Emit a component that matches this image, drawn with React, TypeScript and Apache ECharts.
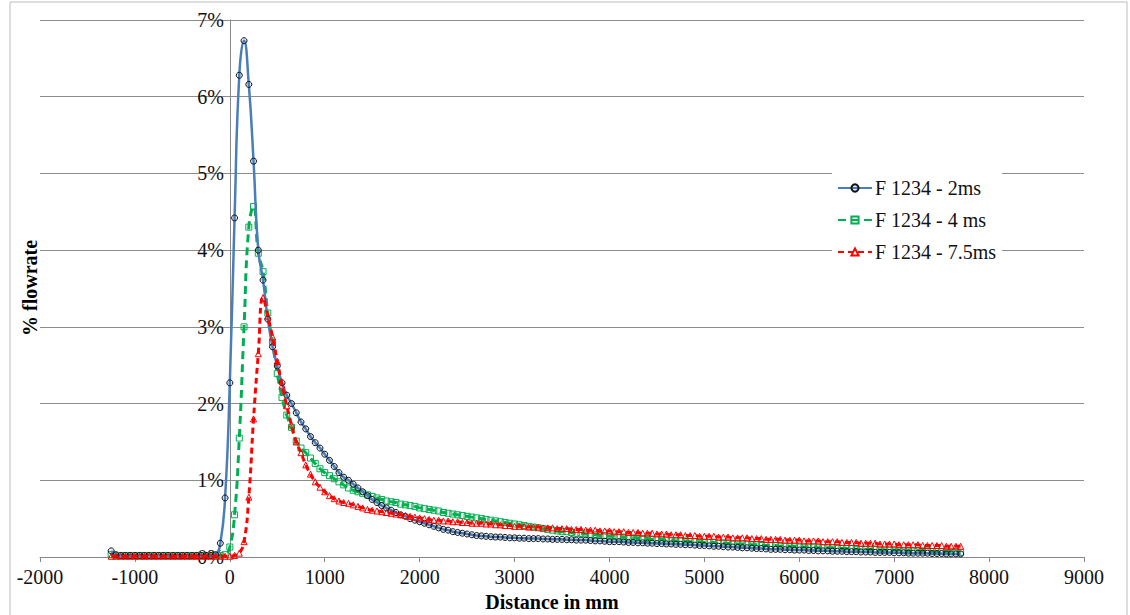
import React, { useEffect, useRef } from "react";
import * as echarts from "echarts";

const X_START = -1250;
const X_STEP = 50;

const blue = [
  0.08, 0.03, 0.02, 0.02, 0.02, 0.02, 0.02, 0.02, 0.02, 0.02,
  0.02, 0.02, 0.02, 0.02, 0.02, 0.02, 0.02, 0.02, 0.02, 0.02,
  0.02, 0.02, 0.03, 0.18, 0.77, 2.27, 4.42, 6.28, 6.73, 6.16,
  5.16, 4.0, 3.61, 3.1, 2.74, 2.49, 2.27, 2.11, 2.0, 1.88,
  1.76, 1.67, 1.57, 1.49, 1.42, 1.34, 1.26, 1.18, 1.1, 1.04,
  1.0, 0.95, 0.9, 0.85, 0.8, 0.75, 0.71, 0.67, 0.64, 0.61,
  0.58, 0.55, 0.53, 0.5, 0.48, 0.46, 0.44, 0.42, 0.4, 0.38,
  0.36, 0.35, 0.33, 0.32, 0.31, 0.3, 0.29, 0.28, 0.275, 0.27,
  0.265, 0.26, 0.26, 0.255, 0.25, 0.25, 0.245, 0.245, 0.24, 0.24,
  0.24, 0.235, 0.235, 0.23, 0.23, 0.23, 0.225, 0.225, 0.22, 0.22,
  0.22, 0.215, 0.21, 0.21, 0.205, 0.2, 0.2, 0.2, 0.195, 0.19,
  0.19, 0.185, 0.185, 0.18, 0.18, 0.175, 0.175, 0.17, 0.17, 0.165,
  0.165, 0.16, 0.16, 0.155, 0.15, 0.15, 0.145, 0.14, 0.14, 0.135,
  0.13, 0.13, 0.125, 0.12, 0.12, 0.115, 0.11, 0.11, 0.105, 0.1,
  0.1, 0.1, 0.095, 0.095, 0.09, 0.09, 0.09, 0.085, 0.085, 0.08,
  0.08, 0.08, 0.075, 0.075, 0.075, 0.07, 0.07, 0.07, 0.065, 0.065,
  0.065, 0.06, 0.06, 0.06, 0.06, 0.055, 0.055, 0.055, 0.05, 0.05,
  0.05, 0.05, 0.05, 0.045, 0.045, 0.045, 0.04, 0.04, 0.04, 0.04,
];

const green = [
  0.03, 0.02, 0.02, 0.02, 0.02, 0.02, 0.02, 0.02, 0.02, 0.02,
  0.02, 0.02, 0.02, 0.02, 0.02, 0.02, 0.02, 0.02, 0.02, 0.02,
  0.02, 0.02, 0.02, 0.02, 0.03, 0.13, 0.55, 1.55, 3.0, 4.3,
  4.57, 3.96, 3.72, 3.18, 2.8, 2.39, 2.08, 1.85, 1.69, 1.51,
  1.42, 1.36, 1.29, 1.22, 1.15, 1.1, 1.06, 1.02, 0.98, 0.94,
  0.9, 0.87, 0.85, 0.83, 0.81, 0.79, 0.77, 0.75, 0.73, 0.72,
  0.71, 0.69, 0.68, 0.67, 0.66, 0.64, 0.63, 0.62, 0.61, 0.6,
  0.58, 0.57, 0.56, 0.55, 0.54, 0.53, 0.52, 0.51, 0.5, 0.49,
  0.48, 0.47, 0.46, 0.45, 0.44, 0.43, 0.42, 0.41, 0.4, 0.39,
  0.38, 0.37, 0.36, 0.35, 0.34, 0.33, 0.33, 0.32, 0.31, 0.31,
  0.3, 0.29, 0.29, 0.28, 0.28, 0.27, 0.27, 0.26, 0.26, 0.25,
  0.25, 0.25, 0.24, 0.24, 0.23, 0.23, 0.23, 0.22, 0.22, 0.21,
  0.21, 0.21, 0.2, 0.2, 0.2, 0.19, 0.19, 0.19, 0.18, 0.18,
  0.18, 0.17, 0.17, 0.17, 0.16, 0.16, 0.16, 0.15, 0.15, 0.15,
  0.15, 0.14, 0.14, 0.14, 0.14, 0.13, 0.13, 0.13, 0.13, 0.12,
  0.12, 0.12, 0.12, 0.11, 0.11, 0.11, 0.11, 0.1, 0.1, 0.1,
  0.1, 0.1, 0.09, 0.09, 0.09, 0.09, 0.09, 0.08, 0.08, 0.08,
  0.08, 0.08, 0.08, 0.07, 0.07, 0.07, 0.07, 0.07, 0.07, 0.06,
];

const red = [
  0.01, 0.01, 0.01, 0.01, 0.01, 0.01, 0.01, 0.01, 0.01, 0.01,
  0.01, 0.01, 0.01, 0.01, 0.01, 0.01, 0.01, 0.01, 0.01, 0.01,
  0.01, 0.01, 0.01, 0.01, 0.01, 0.01, 0.02, 0.05, 0.2, 0.78,
  1.8, 2.65, 3.38, 3.14, 2.87, 2.55, 2.24, 1.97, 1.72, 1.5,
  1.36, 1.2, 1.08, 0.98, 0.91, 0.85, 0.8, 0.76, 0.73, 0.71,
  0.7, 0.68, 0.66, 0.64, 0.62, 0.61, 0.6, 0.59, 0.58, 0.57,
  0.56, 0.55, 0.54, 0.53, 0.52, 0.51, 0.5, 0.49, 0.48, 0.48,
  0.47, 0.47, 0.46, 0.46, 0.45, 0.45, 0.44, 0.44, 0.44, 0.43,
  0.43, 0.42, 0.42, 0.41, 0.41, 0.4, 0.4, 0.4, 0.39, 0.39,
  0.39, 0.38, 0.38, 0.38, 0.37, 0.37, 0.37, 0.36, 0.36, 0.36,
  0.35, 0.35, 0.35, 0.34, 0.34, 0.34, 0.33, 0.33, 0.33, 0.32,
  0.32, 0.32, 0.31, 0.31, 0.31, 0.3, 0.3, 0.3, 0.29, 0.29,
  0.29, 0.28, 0.28, 0.28, 0.27, 0.27, 0.27, 0.27, 0.26, 0.26,
  0.26, 0.25, 0.25, 0.25, 0.25, 0.24, 0.24, 0.24, 0.23, 0.23,
  0.23, 0.23, 0.22, 0.22, 0.22, 0.22, 0.21, 0.21, 0.21, 0.21,
  0.2, 0.2, 0.2, 0.2, 0.19, 0.19, 0.19, 0.19, 0.18, 0.18,
  0.18, 0.18, 0.17, 0.17, 0.17, 0.17, 0.16, 0.16, 0.16, 0.16,
  0.16, 0.15, 0.15, 0.15, 0.15, 0.15, 0.14, 0.14, 0.14, 0.14,
];

const seriesNames = ["F 1234 - 2ms", "F 1234 - 4 ms", "F 1234 - 7.5ms"];
const FONT = "Liberation Serif";

const toPairs = (vals: number[]) => vals.map((v, i) => [X_START + i * X_STEP, v]);

export default function App() {
  const ref = useRef<HTMLDivElement>(null);
  useEffect(() => {
    const chart = echarts.init(ref.current!, null, { renderer: "svg" });
    const base = { type: "line", smooth: true, symbolSize: 6 };
    chart.setOption({
      animation: false,
      textStyle: { fontFamily: FONT },
      grid: { left: 40, right: 46, top: 20, bottom: 58 },
      legend: {
        orient: "vertical",
        left: 832,
        top: 168,
        padding: [10, 6, 10, 5],
        backgroundColor: "#fff",
        itemGap: 12,
        itemWidth: 34,
        itemHeight: 9,
        textStyle: { fontFamily: FONT, fontSize: 20, color: "#111", padding: [0, 0, 0, -2] },
        data: seriesNames,
      },
      xAxis: {
        type: "value",
        min: -2000,
        max: 9000,
        interval: 1000,
        axisLine: { onZero: false, lineStyle: { color: "#888" } },
        axisTick: { show: true, length: 5, lineStyle: { color: "#888" } },
        axisLabel: { fontFamily: FONT, fontSize: 20, color: "#111", margin: 10, formatter: (v: number) => String(v) },
        splitLine: { show: false },
      },
      yAxis: {
        type: "value",
        min: 0,
        max: 7,
        interval: 1,
        axisLine: { show: true, onZero: true, lineStyle: { color: "#888" } },
        axisTick: { show: false },
        axisLabel: { fontFamily: FONT, fontSize: 20, color: "#111", formatter: "{value}%", margin: -184 },
        splitLine: { lineStyle: { color: "#8c8c8c", width: 1 } },
      },
      graphic: [
        { type: "rect", shape: { x: 10, y: 2, width: 1117, height: 640 }, style: { fill: "none", stroke: "#bbb", lineWidth: 1 }, silent: true },
        { type: "text", x: 30, y: 288, rotation: Math.PI / 2, style: { text: "% flowrate", font: `bold 20px ${FONT}`, fill: "#000", align: "center", verticalAlign: "middle" } },
        { type: "text", x: 552, y: 602, style: { text: "Distance in mm", font: `bold 20px ${FONT}`, fill: "#000", align: "center", verticalAlign: "middle" } },
      ],
      series: [
        {
          ...base, name: seriesNames[0], data: toPairs(blue), symbol: "circle", z: 3,
          lineStyle: { color: "#4a7ebb", width: 2.5 },
          itemStyle: { color: "rgba(74,126,187,0.15)", borderColor: "#111", borderWidth: 1 },
        },
        {
          ...base, name: seriesNames[1], data: toPairs(green), symbol: "rect", z: 2,
          lineStyle: { color: "#00b050", width: 3, type: [8, 5] },
          itemStyle: { color: "rgba(255,255,255,0)", borderColor: "#00b050", borderWidth: 1 },
        },
        {
          ...base, name: seriesNames[2], data: toPairs(red), symbol: "triangle", z: 4,
          lineStyle: { color: "#ff0000", width: 3, type: [6, 4] },
          itemStyle: { color: "rgba(255,255,255,0)", borderColor: "#ff0000", borderWidth: 1 },
        },
      ],
    });
    return () => chart.dispose();
  }, []);
  return <div ref={ref} style={{ position: "absolute", left: 0, top: 0, width: 1130, height: 615 }} />;
}
